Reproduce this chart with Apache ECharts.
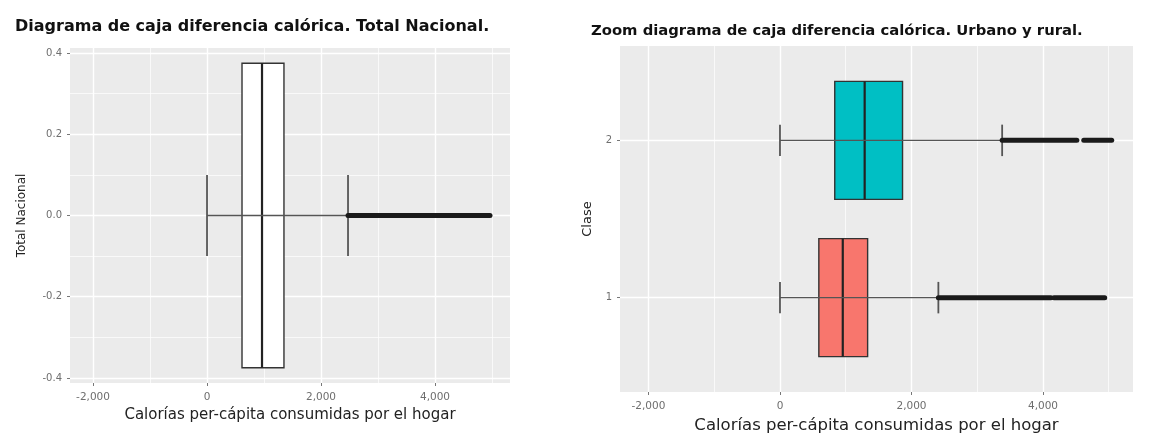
<!DOCTYPE html>
<html lang="es">
<head>
<meta charset="UTF-8">
<title>Diagrama de caja diferencia calórica</title>
<style>
*{margin:0;padding:0;box-sizing:border-box;}
body{background:#fff;}
#view{width:1161px;height:436px;}
</style>
</head>
<body>
<div id="view"></div>
<script src="https://cdn.jsdelivr.net/npm/echarts@6/dist/echarts.min.js"></script>
<script>
// marcas de los ejes
const xTicks = [-2000, 0, 2000, 4000];
const xMinor = [-1000, 1000, 3000, 5000];
const yTicksNac = [-0.4, -0.2, 0, 0.2, 0.4];
const yMinorNac = [-0.3, -0.1, 0.1, 0.3];
const clases = [1, 2];
// [posición, bigote inf, Q1, mediana, Q3, bigote sup]
const cajaNacional = [[0, 0, 614, 965, 1350, 2474]];
const cajaClase1 = [[1, 0, 591, 955, 1333, 2409]];
const cajaClase2 = [[2, 0, 833, 1288, 1864, 3379]];
// tramos de atípicos [posición, desde, hasta]
const atipNacional = [[0, 2474, 4965]];
const atipClase1 = [[1, 2409, 4121], [1, 4167, 4939]];
const atipClase2 = [[2, 3379, 4515], [2, 4620, 5045]];

const fuente = 'DejaVu Sans';
const gris = '#6e6e6e';

function cajaRender(fill) {
  return function (params, api) {
    const y = api.value(0);
    const lo = api.value(1), q1 = api.value(2), med = api.value(3), q3 = api.value(4), hi = api.value(5);
    const c = (x, dy) => api.coord([x, y + dy]);
    const a = c(q1, 0.375), b = c(q3, -0.375);
    const m1 = c(med, 0.375), m2 = c(med, -0.375);
    const l = c(lo, 0), h = c(hi, 0);
    const lt = c(lo, 0.1), lb = c(lo, -0.1), ht = c(hi, 0.1), hb = c(hi, -0.1);
    return {
      type: 'group',
      children: [
        { type: 'rect', shape: { x: a[0], y: a[1], width: b[0] - a[0], height: b[1] - a[1] }, style: { fill: fill, stroke: '#333', lineWidth: 1.4 } },
        { type: 'line', shape: { x1: m1[0], y1: m1[1], x2: m2[0], y2: m2[1] }, style: { stroke: '#222', lineWidth: 2.2 } },
        { type: 'line', shape: { x1: l[0], y1: l[1], x2: h[0], y2: h[1] }, style: { stroke: '#555', lineWidth: 1.4 } },
        { type: 'line', shape: { x1: lt[0], y1: lt[1], x2: lb[0], y2: lb[1] }, style: { stroke: '#555', lineWidth: 1.8 } },
        { type: 'line', shape: { x1: ht[0], y1: ht[1], x2: hb[0], y2: hb[1] }, style: { stroke: '#555', lineWidth: 1.8 } }
      ]
    };
  };
}

function atipRender(params, api) {
  const y = api.value(0);
  const a = api.coord([api.value(1), y]), b = api.coord([api.value(2), y]);
  return { type: 'line', shape: { x1: a[0], y1: a[1], x2: b[0], y2: b[1] }, style: { stroke: '#1a1a1a', lineWidth: 5, lineCap: 'round' } };
}

function fmtMiles(v) {
  return v === 0 ? '0' : v.toLocaleString('en-US');
}

function ejeX(grid, min, max, nombre, gap, size) {
  return [{
    type: 'value', gridIndex: grid, min: min, max: max,
    axisLine: { show: false, onZero: false },
    axisTick: { show: true, length: 3, customValues: xTicks, lineStyle: { color: '#777' } },
    axisLabel: { customValues: xTicks, formatter: fmtMiles, color: gris, fontFamily: fuente, fontSize: 10.5, margin: 9 },
    splitLine: { show: true, lineStyle: { color: '#fff', width: 1.4 } },
    name: nombre, nameLocation: 'middle', nameGap: gap,
    nameTextStyle: { color: '#222', fontFamily: fuente, fontSize: size }
  }, {
    type: 'value', gridIndex: grid, min: min, max: max, position: 'top',
    axisLine: { show: false, onZero: false }, axisLabel: { show: false },
    axisTick: { show: false, customValues: xMinor },
    splitLine: { show: true, lineStyle: { color: '#fff', width: 0.7 } }
  }];
}

const chart = echarts.init(document.getElementById('view'));
chart.setOption({
  animation: false,
  title: [
    { text: 'Diagrama de caja diferencia calórica. Total Nacional.', left: 10, top: 14, textStyle: { fontFamily: fuente, fontWeight: 'bold', fontSize: 16, color: '#111' } },
    { text: 'Zoom diagrama de caja diferencia calórica. Urbano y rural.', left: 586, top: 19, textStyle: { fontFamily: fuente, fontWeight: 'bold', fontSize: 14.8, color: '#111' } }
  ],
  grid: [
    { left: 70, right: 651, top: 48, bottom: 53, outerBoundsMode: 'none', show: true, backgroundColor: '#ebebeb', borderWidth: 0 },
    { left: 620, right: 28, top: 46, bottom: 44, outerBoundsMode: 'none', show: true, backgroundColor: '#ebebeb', borderWidth: 0 }
  ],
  xAxis: [].concat(
    ejeX(0, -2404, 5316, 'Calorías per-cápita consumidas por el hogar', 21, 15),
    ejeX(1, -2433, 5369, 'Calorías per-cápita consumidas por el hogar', 24, 16.5)
  ),
  yAxis: [{
    type: 'value', gridIndex: 0, min: -0.4125, max: 0.4125,
    axisLine: { show: false, onZero: false },
    axisTick: { show: true, length: 3, customValues: yTicksNac, lineStyle: { color: '#777' } },
    axisLabel: { customValues: yTicksNac, formatter: v => v.toFixed(1), color: gris, fontFamily: fuente, fontSize: 10, margin: 8 },
    splitLine: { show: true, lineStyle: { color: '#fff', width: 1.4 } },
    name: 'Total Nacional', nameLocation: 'middle', nameRotate: 90, nameGap: 42,
    nameTextStyle: { color: '#222', fontFamily: fuente, fontSize: 12 }
  }, {
    type: 'value', gridIndex: 0, min: -0.4125, max: 0.4125, position: 'right',
    axisLine: { show: false, onZero: false }, axisLabel: { show: false },
    axisTick: { show: false, customValues: yMinorNac },
    splitLine: { show: true, lineStyle: { color: '#fff', width: 0.7 } }
  }, {
    type: 'value', gridIndex: 1, min: 0.4, max: 2.6,
    axisLine: { show: false, onZero: false },
    axisTick: { show: true, length: 3, customValues: clases, lineStyle: { color: '#777' } },
    axisLabel: { customValues: clases, color: gris, fontFamily: fuente, fontSize: 10, margin: 8 },
    splitLine: { show: true, lineStyle: { color: '#fff', width: 1.4 } },
    name: 'Clase', nameLocation: 'middle', nameRotate: 90, nameGap: 26,
    nameTextStyle: { color: '#222', fontFamily: fuente, fontSize: 13 }
  }],
  series: [
    { type: 'custom', xAxisIndex: 0, yAxisIndex: 0, renderItem: cajaRender('#fff'), encode: { x: [1, 2, 3, 4, 5], y: 0 }, data: cajaNacional },
    { type: 'custom', xAxisIndex: 0, yAxisIndex: 0, renderItem: atipRender, encode: { x: [1, 2], y: 0 }, data: atipNacional },
    { type: 'custom', xAxisIndex: 2, yAxisIndex: 2, renderItem: cajaRender('#F8766D'), encode: { x: [1, 2, 3, 4, 5], y: 0 }, data: cajaClase1 },
    { type: 'custom', xAxisIndex: 2, yAxisIndex: 2, renderItem: cajaRender('#00BFC4'), encode: { x: [1, 2, 3, 4, 5], y: 0 }, data: cajaClase2 },
    { type: 'custom', xAxisIndex: 2, yAxisIndex: 2, renderItem: atipRender, encode: { x: [1, 2], y: 0 }, data: atipClase1 },
    { type: 'custom', xAxisIndex: 2, yAxisIndex: 2, renderItem: atipRender, encode: { x: [1, 2], y: 0 }, data: atipClase2 }
  ]
});
</script>
</body>
</html>
